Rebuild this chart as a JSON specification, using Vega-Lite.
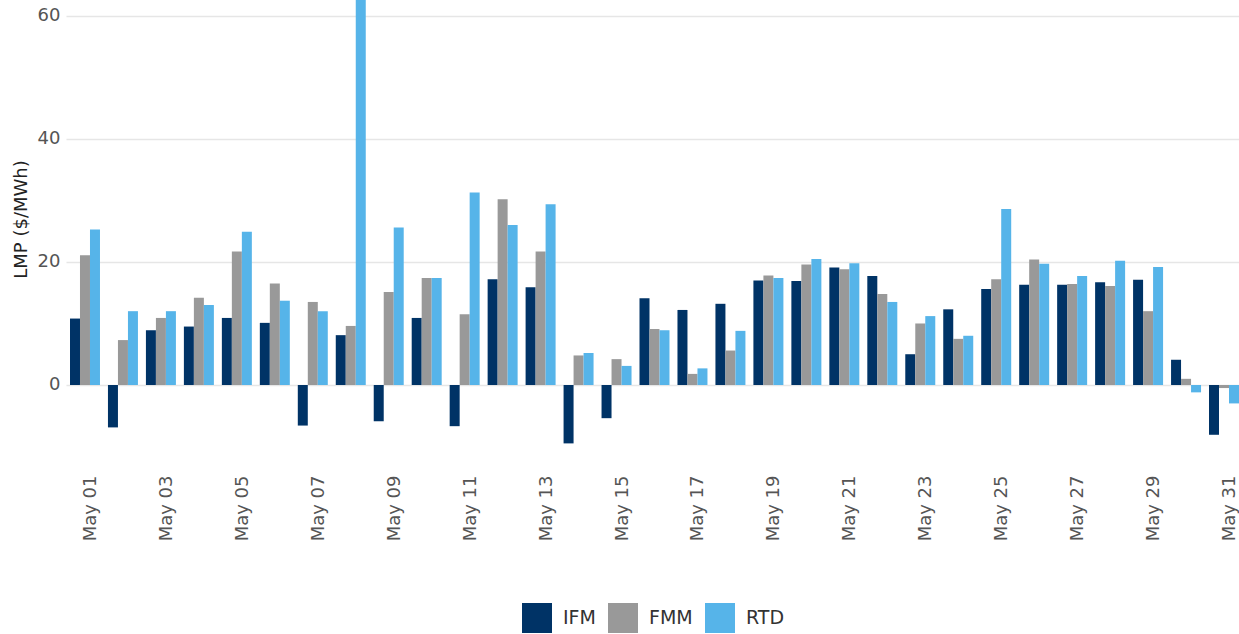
{
  "$schema": "https://vega.github.io/schema/vega-lite/v6.json",
  "width": 1173,
  "height": 460,
  "autosize": {"type": "none"},
  "padding": {"left": 66, "top": 0, "right": 0, "bottom": 174},
  "background": "white",
  "config": {
    "view": {"stroke": null},
    "font": "DejaVu Sans"
  },
  "data": {
    "values": [
      {"date": "May 01", "series": "IFM", "value": 10.8}, {"date": "May 01", "series": "FMM", "value": 21.1}, {"date": "May 01", "series": "RTD", "value": 25.3},
      {"date": "May 02", "series": "IFM", "value": -6.9}, {"date": "May 02", "series": "FMM", "value": 7.3}, {"date": "May 02", "series": "RTD", "value": 12.0},
      {"date": "May 03", "series": "IFM", "value": 8.9}, {"date": "May 03", "series": "FMM", "value": 10.9}, {"date": "May 03", "series": "RTD", "value": 12.0},
      {"date": "May 04", "series": "IFM", "value": 9.5}, {"date": "May 04", "series": "FMM", "value": 14.2}, {"date": "May 04", "series": "RTD", "value": 13.0},
      {"date": "May 05", "series": "IFM", "value": 10.9}, {"date": "May 05", "series": "FMM", "value": 21.7}, {"date": "May 05", "series": "RTD", "value": 24.9},
      {"date": "May 06", "series": "IFM", "value": 10.1}, {"date": "May 06", "series": "FMM", "value": 16.5}, {"date": "May 06", "series": "RTD", "value": 13.7},
      {"date": "May 07", "series": "IFM", "value": -6.6}, {"date": "May 07", "series": "FMM", "value": 13.5}, {"date": "May 07", "series": "RTD", "value": 12.0},
      {"date": "May 08", "series": "IFM", "value": 8.1}, {"date": "May 08", "series": "FMM", "value": 9.6}, {"date": "May 08", "series": "RTD", "value": 70.0},
      {"date": "May 09", "series": "IFM", "value": -5.9}, {"date": "May 09", "series": "FMM", "value": 15.1}, {"date": "May 09", "series": "RTD", "value": 25.6},
      {"date": "May 10", "series": "IFM", "value": 10.9}, {"date": "May 10", "series": "FMM", "value": 17.4}, {"date": "May 10", "series": "RTD", "value": 17.4},
      {"date": "May 11", "series": "IFM", "value": -6.7}, {"date": "May 11", "series": "FMM", "value": 11.5}, {"date": "May 11", "series": "RTD", "value": 31.3},
      {"date": "May 12", "series": "IFM", "value": 17.2}, {"date": "May 12", "series": "FMM", "value": 30.2}, {"date": "May 12", "series": "RTD", "value": 26.0},
      {"date": "May 13", "series": "IFM", "value": 15.9}, {"date": "May 13", "series": "FMM", "value": 21.7}, {"date": "May 13", "series": "RTD", "value": 29.4},
      {"date": "May 14", "series": "IFM", "value": -9.5}, {"date": "May 14", "series": "FMM", "value": 4.8}, {"date": "May 14", "series": "RTD", "value": 5.2},
      {"date": "May 15", "series": "IFM", "value": -5.4}, {"date": "May 15", "series": "FMM", "value": 4.2}, {"date": "May 15", "series": "RTD", "value": 3.1},
      {"date": "May 16", "series": "IFM", "value": 14.1}, {"date": "May 16", "series": "FMM", "value": 9.1}, {"date": "May 16", "series": "RTD", "value": 8.9},
      {"date": "May 17", "series": "IFM", "value": 12.2}, {"date": "May 17", "series": "FMM", "value": 1.8}, {"date": "May 17", "series": "RTD", "value": 2.7},
      {"date": "May 18", "series": "IFM", "value": 13.2}, {"date": "May 18", "series": "FMM", "value": 5.6}, {"date": "May 18", "series": "RTD", "value": 8.8},
      {"date": "May 19", "series": "IFM", "value": 17.0}, {"date": "May 19", "series": "FMM", "value": 17.8}, {"date": "May 19", "series": "RTD", "value": 17.4},
      {"date": "May 20", "series": "IFM", "value": 16.9}, {"date": "May 20", "series": "FMM", "value": 19.6}, {"date": "May 20", "series": "RTD", "value": 20.5},
      {"date": "May 21", "series": "IFM", "value": 19.1}, {"date": "May 21", "series": "FMM", "value": 18.8}, {"date": "May 21", "series": "RTD", "value": 19.8},
      {"date": "May 22", "series": "IFM", "value": 17.7}, {"date": "May 22", "series": "FMM", "value": 14.8}, {"date": "May 22", "series": "RTD", "value": 13.5},
      {"date": "May 23", "series": "IFM", "value": 5.0}, {"date": "May 23", "series": "FMM", "value": 10.0}, {"date": "May 23", "series": "RTD", "value": 11.2},
      {"date": "May 24", "series": "IFM", "value": 12.3}, {"date": "May 24", "series": "FMM", "value": 7.5}, {"date": "May 24", "series": "RTD", "value": 8.0},
      {"date": "May 25", "series": "IFM", "value": 15.6}, {"date": "May 25", "series": "FMM", "value": 17.2}, {"date": "May 25", "series": "RTD", "value": 28.6},
      {"date": "May 26", "series": "IFM", "value": 16.3}, {"date": "May 26", "series": "FMM", "value": 20.4}, {"date": "May 26", "series": "RTD", "value": 19.7},
      {"date": "May 27", "series": "IFM", "value": 16.3}, {"date": "May 27", "series": "FMM", "value": 16.4}, {"date": "May 27", "series": "RTD", "value": 17.7},
      {"date": "May 28", "series": "IFM", "value": 16.7}, {"date": "May 28", "series": "FMM", "value": 16.1}, {"date": "May 28", "series": "RTD", "value": 20.2},
      {"date": "May 29", "series": "IFM", "value": 17.1}, {"date": "May 29", "series": "FMM", "value": 12.0}, {"date": "May 29", "series": "RTD", "value": 19.2},
      {"date": "May 30", "series": "IFM", "value": 4.1}, {"date": "May 30", "series": "FMM", "value": 1.0}, {"date": "May 30", "series": "RTD", "value": -1.2},
      {"date": "May 31", "series": "IFM", "value": -8.1}, {"date": "May 31", "series": "FMM", "value": -0.5}, {"date": "May 31", "series": "RTD", "value": -3.0}
    ]
  },
  "mark": {"type": "bar", "clip": true},
  "encoding": {
    "x": {
      "field": "date",
      "type": "nominal",
      "sort": "ascending",
      "scale": {"range": [0, 1177], "paddingInner": 0.21, "paddingOuter": 0.105},
      "axis": {
        "title": null,
        "values": ["May 01", "May 03", "May 05", "May 07", "May 09", "May 11", "May 13", "May 15", "May 17", "May 19", "May 21", "May 23", "May 25", "May 27", "May 29", "May 31"],
        "labelAngle": -90,
        "labelFontSize": 18,
        "labelColor": "#555555",
        "labelPadding": 15,
        "labelOffset": 6,
        "ticks": false,
        "domain": false,
        "grid": false
      }
    },
    "xOffset": {
      "field": "series",
      "type": "nominal",
      "sort": ["IFM", "FMM", "RTD"],
      "scale": {"paddingInner": 0, "paddingOuter": 0}
    },
    "y": {
      "field": "value",
      "type": "quantitative",
      "scale": {"domain": [-12.2, 62.6], "nice": false, "zero": false},
      "axis": {
        "title": "LMP ($/MWh)",
        "titleFontSize": 18,
        "titleFontWeight": "normal",
        "titleColor": "#222222",
        "titleX": -36,
        "titleY": 219,
        "values": [0, 20, 40, 60],
        "labelFontSize": 18,
        "labelColor": "#555555",
        "labelPadding": 6,
        "ticks": false,
        "domain": false,
        "grid": true,
        "gridColor": "#e6e6e6",
        "gridWidth": 1.5
      }
    },
    "color": {
      "field": "series",
      "type": "nominal",
      "sort": ["IFM", "FMM", "RTD"],
      "scale": {"domain": ["IFM", "FMM", "RTD"], "range": ["#003366", "#999999", "#56b4e9"]},
      "legend": {
        "title": null,
        "orient": "none",
        "direction": "horizontal",
        "legendX": 456,
        "legendY": 603,
        "padding": 0,
        "symbolType": "square",
        "symbolSize": 900,
        "symbolStrokeWidth": 0,
        "symbolOpacity": 1,
        "labelFontSize": 19,
        "labelColor": "#333333",
        "labelOffset": 11,
        "columnPadding": 12
      }
    }
  }
}
